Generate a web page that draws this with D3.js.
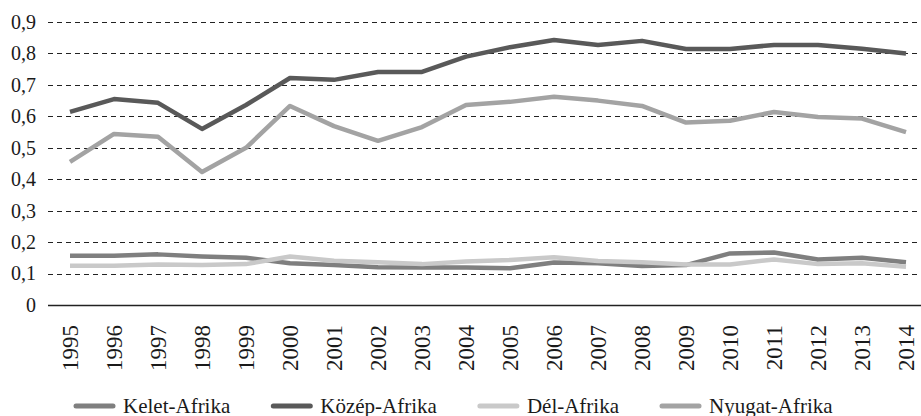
<!DOCTYPE html>
<html>
<head>
<meta charset="utf-8">
<script src="https://cdn.jsdelivr.net/npm/d3@7"></script>
<style>
  body { margin: 0; background: #fff; }
  #wrap { position: relative; width: 921px; height: 416px; overflow: hidden; }
  #wrap svg { position: absolute; left: 0; top: 0; }
  .lab { position: absolute; white-space: nowrap; color: #1a1a1a; font-family: "Liberation Serif", "Times New Roman", serif; line-height: 1; }
</style>
</head>
<body>
<div id="wrap"><svg id="chart" width="921" height="416"></svg></div>
<script>
// data
const years = [1995, 1996, 1997, 1998, 1999, 2000, 2001, 2002, 2003, 2004,
  2005, 2006, 2007, 2008, 2009, 2010, 2011, 2012, 2013, 2014];
const kelet = [0.157, 0.157, 0.161, 0.154, 0.150, 0.133, 0.127, 0.120, 0.119, 0.119,
  0.117, 0.135, 0.133, 0.124, 0.127, 0.164, 0.167, 0.145, 0.150, 0.136];
const kozep = [0.614, 0.655, 0.643, 0.560, 0.636, 0.722, 0.716, 0.741, 0.741, 0.790,
  0.820, 0.843, 0.827, 0.840, 0.814, 0.814, 0.827, 0.827, 0.815, 0.800];
const del = [0.125, 0.125, 0.129, 0.127, 0.130, 0.154, 0.141, 0.136, 0.130, 0.138,
  0.143, 0.152, 0.140, 0.136, 0.129, 0.129, 0.145, 0.130, 0.133, 0.122];
const nyugat = [0.455, 0.544, 0.535, 0.423, 0.500, 0.633, 0.569, 0.522, 0.566, 0.636,
  0.646, 0.662, 0.650, 0.633, 0.580, 0.586, 0.614, 0.598, 0.593, 0.550];
const yTicks = [0, 0.1, 0.2, 0.3, 0.4, 0.5, 0.6, 0.7, 0.8, 0.9];

const series = [
  { name: "Kelet-Afrika", values: kelet, color: "#7f7f7f" },
  { name: "Közép-Afrika", values: kozep, color: "#595959" },
  { name: "Dél-Afrika", values: del, color: "#c9c9c9" },
  { name: "Nyugat-Afrika", values: nyugat, color: "#a3a3a3" }
];

const svg = d3.select("#chart");
const wrap = d3.select("#wrap");

let x = d3.scaleBand().domain(years).range([48, 928]);
let y = d3.scaleLinear().domain([0, 0.9]).range([305, 22]);

// gridlines
svg.append("g")
  .selectAll("line")
  .data(yTicks.filter(d => d > 0))
  .enter()
  .append("line")
  .attr("x1", 48)
  .attr("x2", 921)
  .attr("y1", d => Math.round(y(d)) + 0.5)
  .attr("y2", d => Math.round(y(d)) + 0.5)
  .attr("stroke", "#222")
  .attr("stroke-width", 1)
  .attr("stroke-dasharray", "5,4");

// y axis labels (svg text, serif)
let yAxis = d3.axisLeft(y)
  .tickValues(yTicks)
  .tickSize(0)
  .tickPadding(0)
  .tickFormat(d => d === 0 ? "0" : d3.format(".1f")(d).replace(".", ","));

let gy = svg.append("g")
  .attr("transform", "translate(36,0)")
  .call(yAxis)
  .attr("font-family", "serif")
  .attr("font-size", 20);
gy.select(".domain").remove();
gy.selectAll("text")
  .attr("font-family", "serif")
  .attr("fill", "#1a1a1a");

// x axis labels (svg text, Times New Roman)
let xAxis = d3.axisBottom(x).tickSize(0).tickPadding(0);
let gx = svg.append("g")
  .attr("transform", "translate(0,305)")
  .call(xAxis)
  .attr("font-family", "Times New Roman")
  .attr("font-size", 23);
gx.select(".domain").remove();
gx.selectAll("text")
  .attr("font-family", "Times New Roman")
  .attr("fill", "#1a1a1a")
  .attr("text-anchor", "end")
  .attr("dy", "0.35em")
  .attr("transform", "translate(0,20) rotate(-90)");

svg.append("line")
  .attr("x1", 48).attr("x2", 921)
  .attr("y1", 305.5).attr("y2", 305.5)
  .attr("stroke", "#222")
  .attr("stroke-width", 1.3);

// lines
let line = d3.line()
  .x((d, i) => x(years[i]) + x.bandwidth() / 2)
  .y(d => y(d));

svg.append("g")
  .selectAll("path")
  .data(series)
  .enter()
  .append("path")
  .attr("d", d => line(d.values))
  .attr("fill", "none")
  .attr("stroke", d => d.color)
  .attr("stroke-width", 4.5)
  .attr("stroke-linejoin", "round");

// legend: swatches in svg, names as html labels
let lx = 76;
series.forEach(s => {
  svg.append("line")
    .attr("x1", lx).attr("x2", lx + 37)
    .attr("y1", 406).attr("y2", 406)
    .attr("stroke", s.color)
    .attr("stroke-width", 5)
    .attr("stroke-linecap", "round");
  let lab = wrap.append("div")
    .attr("class", "lab")
    .style("left", (lx + 47) + "px")
    .style("top", "396px")
    .style("font-size", "21px")
    .text(s.name);
  lx += 47 + lab.node().getBoundingClientRect().width + 43;
});
</script>
</body>
</html>
